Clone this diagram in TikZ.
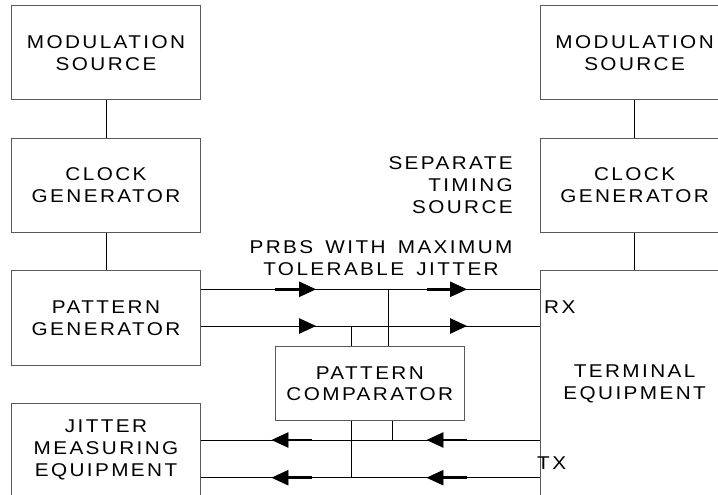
\documentclass[tikz,border=0pt]{standalone}
\usepackage{fontspec}
\setmainfont{Liberation Sans}[FakeStretch=1.12,LetterSpace=13,WordSpace=1.5]
\definecolor{boxgray}{RGB}{90,90,90}
\newcommand{\lbl}{\fontsize{18.5}{21.7}\selectfont}
\begin{document}
\begin{tikzpicture}[x=1pt,y=-1pt,
  box/.style={draw=boxgray, line width=1pt, inner sep=0pt, minimum width=188.6pt, minimum height=94pt, align=center, font=\lbl},
  txt/.style={inner sep=0pt, font=\lbl},
  ln/.style={line width=1pt, black},
  stem/.style={line width=2.5pt, black},
  tri/.style={fill=black, draw=black, line width=0.8pt, line join=miter}]
\useasboundingbox (0,0) rectangle (718,495);
\clip (0,0) rectangle (718,495);
% boxes
\node[box] (ms1) at (106,53) {MODULATION\\SOURCE};
\node[box] (cg1) at (106,185.3) {CLOCK\\GENERATOR};
\node[box, minimum height=94.3pt] (pg) at (106,318) {PATTERN\\GENERATOR};
\node[box] (jm) at (106,450) {JITTER\\MEASURING\\EQUIPMENT};
\node[box] (ms2) at (634.6,53) {MODULATION\\SOURCE};
\node[box] (cg2) at (634.6,185.3) {CLOCK\\GENERATOR};
\node[box, minimum height=226.3pt] (te) at (634.6,383.8) {TERMINAL\\EQUIPMENT};
\node[box, minimum width=189pt, minimum height=74.3pt] (pc) at (369.8,383.8) {PATTERN\\COMPARATOR};
% labels
\node[txt, anchor=east, align=right] (sts) at (513,185) {SEPARATE\\TIMING\\SOURCE};
\node[txt, align=center] (prbs) at (381,258) {PRBS WITH MAXIMUM\\TOLERABLE JITTER};
\node[txt, anchor=base west] (rx) at (544,313.3) {RX};
\node[txt, anchor=base west] (tx) at (537,469.3) {TX};
% vertical connectors
\draw[ln] (ms1) -- (cg1);
\draw[ln] (cg1) -- (pg);
\draw[ln] (ms2) -- (cg2);
\draw[ln] (cg2.south) -- (cg2.south |- te.north);
% row coordinates
\coordinate (r1) at (0,289.3);
\coordinate (r2) at (0,326);
\coordinate (r3) at (0,440);
\coordinate (r4) at (0,477.7);
\draw[ln] (pg.east |- r1) -- (te.west |- r1);
\draw[ln] (pg.east |- r2) -- (te.west |- r2);
\draw[ln] (jm.east |- r3) -- (te.west |- r3);
\draw[ln] (jm.east |- r4) -- (te.west |- r4);
% taps to comparator
\coordinate (va) at (388.3,0);
\coordinate (vb) at (351.7,0);
\coordinate (vc) at (392.7,0);
\draw[ln] (va |- r1) -- (va |- pc.north);
\draw[ln] (vb |- r2) -- (vb |- pc.north);
\draw[ln] (vb |- pc.south) -- (vb |- r4);
\draw[ln] (vc |- pc.south) -- (vc |- r3);
% arrowheads and stems
\draw[stem] (275,289.3) -- (300,289.3);
\draw[tri] (299.5,289.3) +(0,-7.2) -- +(15.5,0) -- +(0,7.2) -- cycle;
\draw[stem] (426.7,289.3) -- (451,289.3);
\draw[tri] (450.5,289.3) +(0,-7.2) -- +(15.5,0) -- +(0,7.2) -- cycle;
\draw[tri] (299.5,326) +(0,-7.2) -- +(15.5,0) -- +(0,7.2) -- cycle;
\draw[tri] (450.5,326) +(0,-7.2) -- +(15.5,0) -- +(0,7.2) -- cycle;
\draw[stem] (287,440) -- (311.7,440);
\draw[tri] (288,440) +(0,-7.2) -- +(-15.5,0) -- +(0,7.2) -- cycle;
\draw[stem] (442,440) -- (466.7,440);
\draw[tri] (443,440) +(0,-7.2) -- +(-15.5,0) -- +(0,7.2) -- cycle;
\draw[stem] (287,477.7) -- (311.7,477.7);
\draw[tri] (288,477.7) +(0,-7.2) -- +(-15.5,0) -- +(0,7.2) -- cycle;
\draw[stem] (442,477.7) -- (466.7,477.7);
\draw[tri] (443,477.7) +(0,-7.2) -- +(-15.5,0) -- +(0,7.2) -- cycle;
\end{tikzpicture}
\end{document}
